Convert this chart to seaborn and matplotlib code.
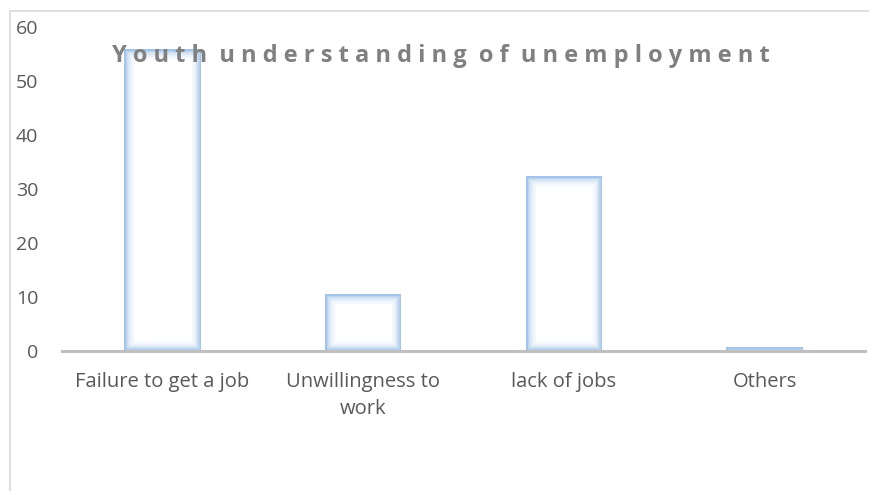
import matplotlib
matplotlib.use("Agg")
import matplotlib.pyplot as plt
import matplotlib.patches as mpatches
import pandas as pd
import seaborn as sns

CATEGORIES = ["Failure to get a job", "Unwillingness to\nwork", "lack of jobs", "Others"]
VALUES = [56, 10.5, 32.5, 0.8]
Y_TICKS = [0, 10, 20, 30, 40, 50, 60]
TITLE = "Youth understanding of unemployment"

TEXT_GREY = "#595959"
TITLE_GREY = "#808080"
# edge glow layers, widest/palest first down to the thin stronger edge
GLOW_LAYERS = [("#f5f9fd", 14), ("#ebf2fa", 11), ("#dde9f6", 8),
               ("#cbdef2", 6), ("#b8d2ed", 4), ("#a3c4e8", 2)]

sns.set_theme(style="white")
plt.rcParams["font.family"] = ["Open Sans", "DejaVu Sans"]

df = pd.DataFrame({"category": CATEGORIES, "value": VALUES})

fig = plt.figure(figsize=(8.7, 4.91), dpi=100)
ax = fig.add_axes([62 / 870, 1 - 351 / 491, 803 / 870, 324 / 491])

# each pass draws the bars again; clipping a bar to itself keeps only the
# inner half of its edge, so the stacked passes give a soft inward glow
for colour, lw in GLOW_LAYERS:
    n_before = len(ax.patches)
    sns.barplot(data=df, x="category", y="value", ax=ax, width=0.38,
                color="white" if n_before == 0 else "none",
                edgecolor=colour, linewidth=lw, saturation=1)
    for bar in ax.patches[n_before:]:
        bar.set_clip_path(bar)

ax.set_ylim(0, 60)
ax.set_xlim(-0.5, 3.5)
ax.set_yticks(Y_TICKS)
ax.set_xlabel("")
ax.set_ylabel("")
ax.set_facecolor("none")

for side in ["top", "right", "left"]:
    ax.spines[side].set_visible(False)
ax.spines["bottom"].set_color("#bfbfbf")
ax.spines["bottom"].set_linewidth(2.2)
ax.spines["bottom"].set_zorder(5)

ax.tick_params(axis="both", length=0, labelcolor=TEXT_GREY)
ax.tick_params(axis="y", pad=17, labelsize=14)
ax.tick_params(axis="x", pad=15, labelsize=14.5)
for label in ax.get_xticklabels():
    label.set_linespacing(1.5)

# letter-spaced title like the original
spaced = "  ".join(" ".join(word) for word in TITLE.split(" "))
fig.text(441 / 870, 1 - 62 / 491, spaced, ha="center", va="baseline",
         fontsize=17, fontweight="bold", color=TITLE_GREY)

frame = mpatches.Rectangle((10 / 870, -0.1), 1.2, 1.1 - 11 / 491,
                           transform=fig.transFigure, fill=False,
                           edgecolor="#d9d9d9", linewidth=1.2, clip_on=False)
fig.patches.append(frame)

fig.savefig("out.png", dpi=100, facecolor="white")
